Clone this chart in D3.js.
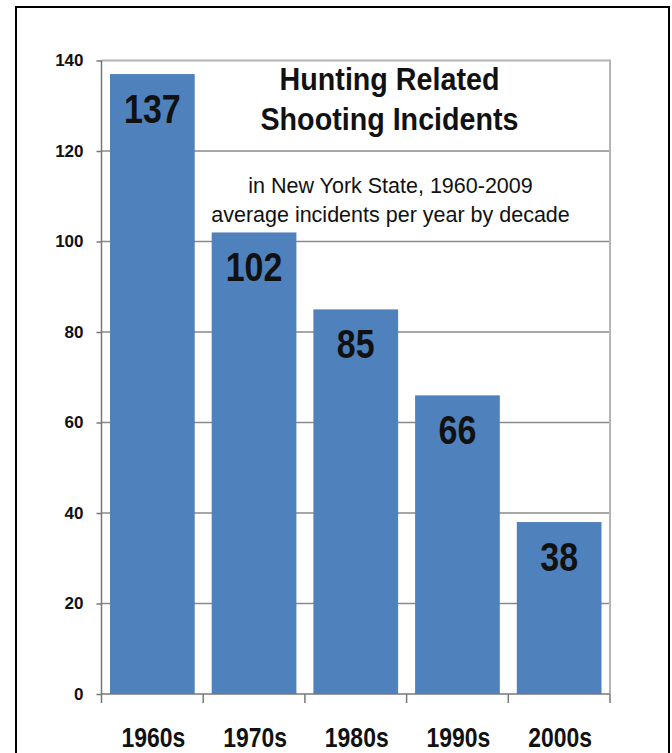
<!DOCTYPE html>
<html>
<head>
<meta charset="utf-8">
<script src="https://cdn.jsdelivr.net/npm/d3@7"></script>
<style>
  body { margin: 0; background: #fff; }
  svg { display: block; font-family: "Liberation Sans", Arial, sans-serif; }
</style>
</head>
<body>
<svg id="chart" width="672" height="753"></svg>
<script>
const decades = ["1960s", "1970s", "1980s", "1990s", "2000s"];
const incidents = [137, 102, 85, 66, 38];
const yTicks = [0, 20, 40, 60, 80, 100, 120, 140];
const titleLines = ["Hunting Related", "Shooting Incidents"];
const subtitleLines = ["in New York State, 1960-2009", "average incidents per year by decade"];

const svg = d3.select("#chart");
const width = +svg.attr("width");
const height = +svg.attr("height");
const plot = { left: 101.5, right: 610, top: 60.5, bottom: 694 };
const narrow = 0.85;

// outer frame, bottom edge runs off the picture
svg.append("rect")
  .attr("x", 16).attr("y", 7)
  .attr("width", 653).attr("height", height + 20)
  .attr("fill", "none").attr("stroke", "#000").attr("stroke-width", 2);

const x = d3.scaleBand().domain(decades).range([plot.left, plot.right])
  .paddingInner(0.167).paddingOuter(0.0835);
const y = d3.scaleLinear().domain([0, 140]).range([plot.bottom, plot.top]);

// gridlines
svg.append("g")
  .selectAll("line")
  .data(yTicks.filter(d => d > 0 && d < 140))
  .join("line")
  .attr("x1", plot.left).attr("x2", plot.right)
  .attr("y1", d => y(d)).attr("y2", d => y(d))
  .attr("stroke", "#8a8a8a").attr("stroke-width", 1.5);

// plot border top + right
svg.append("path")
  .attr("d", `M${plot.left},${plot.top}H${plot.right}V${plot.bottom}`)
  .attr("fill", "none").attr("stroke", "#b4b4b4").attr("stroke-width", 2);

// bars
svg.append("g")
  .selectAll("rect")
  .data(incidents)
  .join("rect")
  .attr("x", (d, i) => x(decades[i]))
  .attr("y", d => y(d))
  .attr("width", x.bandwidth())
  .attr("height", d => y(0) - y(d))
  .attr("fill", "#4f81bd");

// value labels
svg.append("g")
  .selectAll("text")
  .data(incidents)
  .join("text")
  .attr("transform", (d, i) => `translate(${x(decades[i]) + x.bandwidth() / 2},${y(d) + 49}) scale(${narrow},1)`)
  .attr("text-anchor", "middle")
  .attr("font-size", 40).attr("font-weight", "bold").attr("fill", "#111")
  .text(d => d);

// y axis
const yAxis = d3.axisLeft(y).tickValues(yTicks).tickSize(5).tickPadding(13).tickSizeOuter(0);
const gy = svg.append("g").attr("transform", `translate(${plot.left},0)`).call(yAxis);
gy.select(".domain").attr("stroke", "#777").attr("stroke-width", 1.5)
  .attr("d", `M0,${plot.top}V${plot.bottom + 9}`);
gy.selectAll(".tick line").attr("stroke", "#777").attr("stroke-width", 1.5);
gy.selectAll(".tick text")
  .attr("font-family", "Liberation Sans, Arial, sans-serif")
  .attr("font-size", 17).attr("font-weight", "bold").attr("fill", "#111");

// x axis: ticks at band edges
const edges = decades.map(d => x(d) - x.step() * x.paddingInner() / 2).concat([plot.right]);
const gx = svg.append("g");
gx.append("line")
  .attr("x1", plot.left).attr("x2", plot.right)
  .attr("y1", plot.bottom).attr("y2", plot.bottom)
  .attr("stroke", "#777").attr("stroke-width", 1.5);
gx.selectAll(".edge")
  .data(edges.slice(1))
  .join("line")
  .attr("class", "edge")
  .attr("x1", d => d).attr("x2", d => d)
  .attr("y1", plot.bottom).attr("y2", plot.bottom + 9)
  .attr("stroke", "#777").attr("stroke-width", 1.5);
gx.selectAll("text")
  .data(decades)
  .join("text")
  .attr("transform", d => `translate(${x(d) + x.bandwidth() / 2 + 1},747) scale(${narrow},1)`)
  .attr("text-anchor", "middle")
  .attr("font-size", 27).attr("font-weight", "bold").attr("fill", "#111")
  .text(d => d);

// title + subtitle
svg.append("g")
  .selectAll("text")
  .data(titleLines)
  .join("text")
  .attr("transform", (d, i) => `translate(389.5,${90 + i * 40}) scale(0.925,1)`)
  .attr("text-anchor", "middle")
  .attr("font-size", 31).attr("font-weight", "bold").attr("fill", "#111")
  .text(d => d);

svg.append("g")
  .selectAll("text")
  .data(subtitleLines)
  .join("text")
  .attr("x", 390.5).attr("y", (d, i) => 193 + i * 29)
  .attr("text-anchor", "middle")
  .attr("font-size", 21.5).attr("fill", "#111")
  .text(d => d);
</script>
</body>
</html>
